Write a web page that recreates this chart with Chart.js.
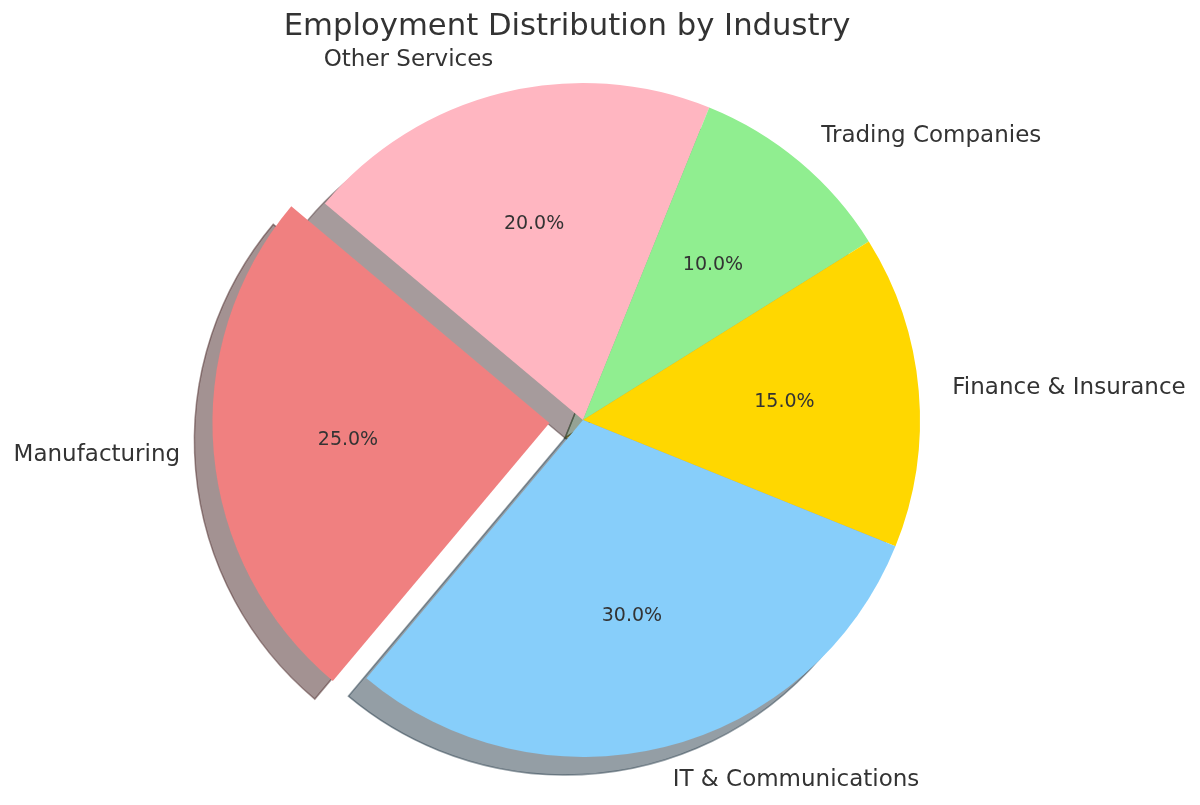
<!DOCTYPE html>
<html>
<head>
<meta charset="utf-8">
<script src="https://cdn.jsdelivr.net/npm/chart.js@4"></script>
<style>
  body { margin: 0; background: #fff; }
</style>
</head>
<body>
<canvas id="pie" width="1200" height="805"></canvas>
<script>
// DATA (matplotlib order: counter-clockwise from 140 deg)
const industries = ["Manufacturing", "IT & Communications", "Finance & Insurance", "Trading Companies", "Other Services"];
const shares = [25, 30, 15, 10, 20];
const sliceColors = ["#F08080", "#87CEFA", "#FFD700", "#90EE90", "#FFB6C1"];
const explode = [0.1, 0, 0, 0, 0];
const chartTitle = "Employment Distribution by Industry";

const RADIUS = 337;
const SHADOW_DX = -18, SHADOW_DY = 18;
const FONT = "'DejaVu Sans', sans-serif";
const TEXT = "#333333";

// chart.js draws clockwise, so flip the order
const labels = industries.slice().reverse();
const values = shares.slice().reverse();
const colors = sliceColors.slice().reverse();
const offsets = explode.slice().reverse().map(e => e * RADIUS * 4); // arc offset is divided by 4 internally

function hexRgb(h) {
    return [1, 3, 5].map(i => parseInt(h.substr(i, 2), 16));
}

// where the exploded slice actually sits
function sliceShift(arc, i) {
    const mid = (arc.startAngle + arc.endAngle) / 2;
    const d = offsets[i] / 4;
    return { x: arc.x + Math.cos(mid) * d, y: arc.y + Math.sin(mid) * d, mid };
}

// SHADOW
const shadowPlugin = {
    id: "shadow",
    beforeDatasetsDraw(chart) {
        const ctx = chart.ctx;
        const arcs = chart.getDatasetMeta(0).data;
        arcs.forEach((arc, i) => {
            const s = sliceShift(arc, i);
            const rgb = hexRgb(colors[i]).map(v => Math.round(v * 0.3));
            const col = `rgba(${rgb[0]},${rgb[1]},${rgb[2]},0.5)`;
            ctx.save();
            ctx.beginPath();
            ctx.moveTo(s.x + SHADOW_DX, s.y + SHADOW_DY);
            ctx.arc(s.x + SHADOW_DX, s.y + SHADOW_DY, arc.outerRadius, arc.startAngle, arc.endAngle);
            ctx.closePath();
            ctx.fillStyle = col;
            ctx.fill();
            ctx.lineWidth = 1.5;
            ctx.strokeStyle = col;
            ctx.stroke();
            ctx.restore();
        });
    }
};

// LABELS + PERCENTAGES + TITLE
const textPlugin = {
    id: "texts",
    afterDatasetsDraw(chart) {
        const ctx = chart.ctx;
        const arcs = chart.getDatasetMeta(0).data;
        const total = values.reduce((a, b) => a + b, 0);
        ctx.save();
        ctx.fillStyle = TEXT;
        arcs.forEach((arc, i) => {
            const s = sliceShift(arc, i);
            const r = arc.outerRadius;
            const cx = Math.cos(s.mid), cy = Math.sin(s.mid);

            ctx.font = `19px ${FONT}`;
            ctx.textAlign = "center";
            ctx.textBaseline = "middle";
            ctx.fillText((values[i] / total * 100).toFixed(1) + "%", s.x + cx * r * 0.6, s.y + cy * r * 0.6);

            ctx.font = `23px ${FONT}`;
            ctx.textAlign = cx > 0 ? "left" : "right";
            ctx.fillText(labels[i], s.x + cx * r * 1.1, s.y + cy * r * 1.1);
        });

        ctx.font = `30.7px ${FONT}`;
        ctx.textAlign = "center";
        ctx.textBaseline = "middle";
        ctx.fillText(chartTitle, 567, 27);
        ctx.restore();
    }
};

new Chart(document.getElementById("pie"), {
    type: "pie",
    data: {
        labels,
        datasets: [{
            data: values,
            backgroundColor: colors,
            borderWidth: 0,
            offset: offsets,
            hoverOffset: 0
        }]
    },
    options: {
        responsive: false,
        animation: false,
        rotation: -50,
        radius: RADIUS,
        layout: { padding: { left: 0, right: 34, top: 35, bottom: 0 } },
        plugins: {
            legend: { display: false },
            title: { display: false },
            tooltip: { enabled: false }
        },
        events: []
    },
    plugins: [shadowPlugin, textPlugin]
});
</script>
</body>
</html>
